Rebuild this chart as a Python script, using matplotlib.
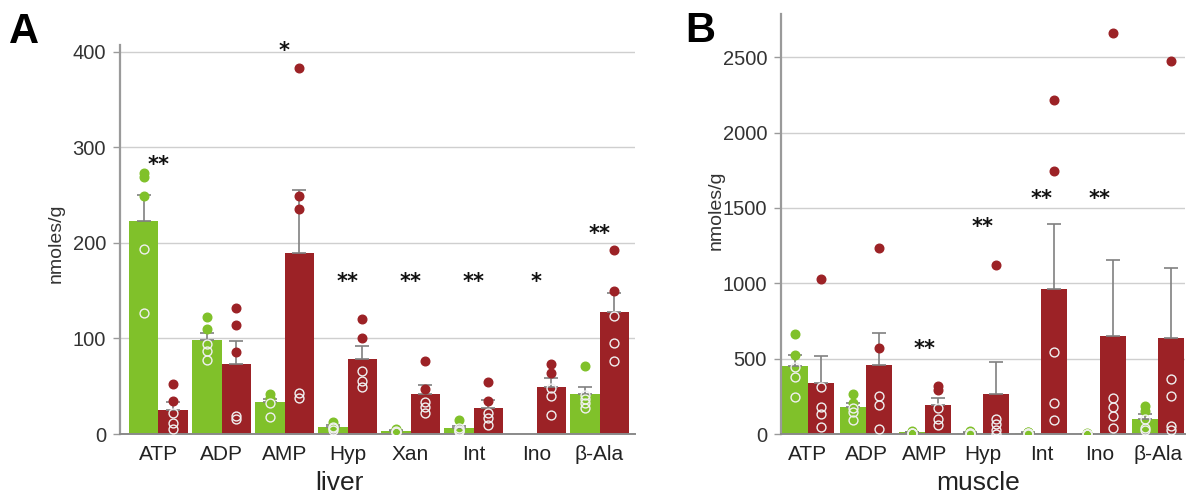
import numpy as np
import matplotlib.pyplot as plt
from matplotlib.transforms import offset_copy

plt.rcParams['font.family'] = ['Liberation Sans', 'DejaVu Sans']

nan = np.nan
# ---------------- data ----------------
liver_groups = ["ATP", "ADP", "AMP", "Hyp", "Xan", "Int", "Ino", "β-Ala"]
liver_ctrl = [[273, 269, 249, 194, 127],
              [122, 110, 94, 87, 77],
              [42, 38, 35, 32, 18],
              [13, 9, 7, 6, 4],
              [5, 4, 3, 2, 2],
              [14.6, 6, 4, 3, 3],
              [nan, nan, nan, nan, nan],
              [71.4, 40.7, 36.2, 32, 26.8]]
liver_trt = [[52, 34.5, 21.6, 11.8, 5],
             [132, 114.5, 86, 19, 16],
             [383, 248.5, 235.7, 43, 38],
             [120, 100, 66, 55, 49],
             [76.6, 46.6, 33.8, 28.6, 22.3],
             [54.7, 34.8, 21.6, 16.3, 9.4],
             [72.8, 64, 47.7, 39.7, 19.8],
             [192, 149.7, 123.6, 95.4, 76.6]]
liver_stars = ["**", "", "*", "**", "**", "**", "*", "**"]
liver_star_level = [288, nan, 408, 166, 166, 166, 166, 216]

muscle_groups = ["ATP", "ADP", "AMP", "Hyp", "Int", "Ino", "β-Ala"]
muscle_ctrl = [[666, 526, 445, 376, 243],
               [265, 206, 175, 144, 95],
               [22, 12, 8, 6, 4],
               [18, 10, 6, 4, 3],
               [15, 10, 8, 5, 3],
               [5, 3, 2, 2, 1],
               [183, 150, 100, 40, 27]]
muscle_trt = [[1026, 312, 177, 135, 46],
              [1235, 571, 254, 194, 33],
              [318, 295, 175, 100, 62],
              [1120, 100, 68, 28, 2],
              [2219, 1743, 544, 206, 95],
              [2662, 239, 177, 117, 40],
              [2478, 365, 254, 55, 29]]
muscle_stars = ["", "", "**", "**", "**", "**", ""]
muscle_star_level = [nan, nan, 604, 1418, 1600, 1600, nan]

GREEN = "#80C12A"
RED = "#9C2226"
GRID = "#cfcfcf"
SPINE = "#9a9a9a"


def panel(ax, groups, ctrl, trt, stars, star_level, width, xlim, ylim, yticks,
          xlabel, xlabel_xy, ylabel_xy):
    x = np.arange(len(groups))
    for series, color, off in ((ctrl, GREEN, -width / 2), (trt, RED, width / 2)):
        arr = np.array(series, dtype=float)
        valid = ~np.all(np.isnan(arr), axis=1)
        means = np.full(len(groups), np.nan)
        sems = np.zeros(len(groups))
        means[valid] = np.nanmean(arr[valid], axis=1)
        sems[valid] = np.nanstd(arr[valid], axis=1, ddof=1) / np.sqrt(
            np.sum(~np.isnan(arr[valid]), axis=1))
        xs = x + off
        ax.bar(xs[valid], means[valid], width=width, color=color, zorder=2,
               linewidth=0)
        ax.errorbar(xs[valid], means[valid],
                    yerr=[np.zeros(valid.sum()), sems[valid]],
                    fmt='none', ecolor='#808080', elinewidth=1.2, capsize=5,
                    capthick=1.2, zorder=3)
        for i in np.where(valid)[0]:
            pts = arr[i][~np.isnan(arr[i])]
            above = pts > means[i]
            ax.plot(np.full(above.sum(), xs[i]), pts[above], 'o', ms=6.2,
                    color=color, mec=color, zorder=4)
            ax.plot(np.full((~above).sum(), xs[i]), pts[~above], 'o', ms=6.4,
                    mfc='none', mec='#f0f0f0', mew=1.0, zorder=4)
    for i, (s, lv) in enumerate(zip(stars, star_level)):
        if s:
            tr = offset_copy(ax.transData, fig=ax.figure, x=0, y=-9, units='points')
            ax.text(x[i], lv, s, ha='center', va='baseline', fontsize=15,
                    family='DejaVu Sans', fontweight='bold', transform=tr,
                    clip_on=False, color='#111111')
    ax.set_xlim(*xlim)
    ax.set_ylim(*ylim)
    ax.set_yticks(yticks)
    ax.set_xticks(x)
    ax.set_xticklabels(groups)
    ax.tick_params(axis='x', length=0, pad=8, labelsize=15, labelcolor='#222222')
    ax.tick_params(axis='y', length=5, width=1, color=SPINE, pad=5,
                   labelsize=14.5, labelcolor='#333333')
    ax.yaxis.grid(True, color=GRID, linewidth=1)
    ax.set_axisbelow(True)
    for sp in ('top', 'right'):
        ax.spines[sp].set_visible(False)
    ax.spines['left'].set_color(SPINE)
    ax.spines['bottom'].set_color('#8a8a8a')
    ax.spines['left'].set_linewidth(1.6)
    ax.spines['bottom'].set_linewidth(1.4)
    ax.set_xlabel(xlabel, fontsize=19, color='#222222')
    ax.xaxis.set_label_coords(*xlabel_xy)
    ax.xaxis.label.set_va('center')
    ax.set_ylabel("nmoles/g", fontsize=14, color='#333333')
    ax.yaxis.set_label_coords(*ylabel_xy)
    ax.yaxis.label.set_va('center')


fig = plt.figure(figsize=(11.98, 5.0), dpi=100)
axA = fig.add_axes([120 / 1198, 66 / 500, 515 / 1198, 389 / 500])
axB = fig.add_axes([781 / 1198, 66 / 500, 404 / 1198, 420 / 500])

panel(axA, liver_groups, liver_ctrl, liver_trt, liver_stars, liver_star_level,
      0.47, (-0.611, 7.563), (0, 407), [0, 100, 200, 300, 400],
      "liver", (0.427, -0.127), (-0.124, 0.49))
panel(axB, muscle_groups, muscle_ctrl, muscle_trt, muscle_stars, muscle_star_level,
      0.444, (-0.4615, 6.46), (0, 2787), [0, 500, 1000, 1500, 2000, 2500],
      "muscle", (0.488, -0.117), (-0.161, 0.533))

fig.text(9 / 1198, 1 - 43 / 500, "A", fontsize=30, fontweight='bold',
         ha='left', va='baseline')
fig.text(685 / 1198, 1 - 42 / 500, "B", fontsize=30, fontweight='bold',
         ha='left', va='baseline')

fig.savefig("out.png", dpi=100)
